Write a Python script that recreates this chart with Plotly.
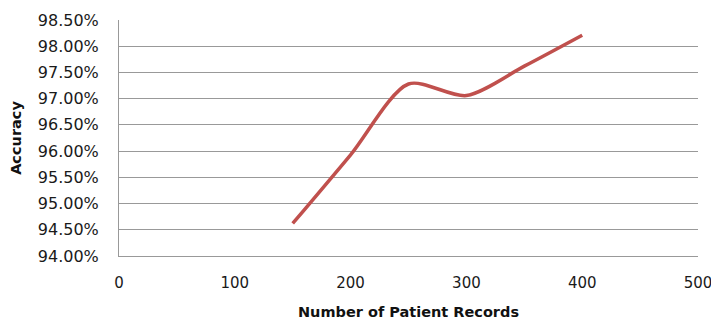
import plotly.graph_objects as go

records = [150, 200, 250, 300, 350, 400]
accuracy = [94.62, 95.93, 97.28, 97.06, 97.62, 98.21]
x_ticks = [0, 100, 200, 300, 400, 500]
y_ticks = [94.0, 94.5, 95.0, 95.5, 96.0, 96.5, 97.0, 97.5, 98.0, 98.5]
y_labels = [f"{v:.2f}%" for v in y_ticks]

fig = go.Figure()
fig.add_trace(go.Scatter(
    x=records, y=accuracy, mode="lines",
    line=dict(color="#C0504D", width=3.5, shape="spline", smoothing=0.8),
    showlegend=False,
))

tick_font = dict(family="DejaVu Sans, Verdana, sans-serif", size=16, color="#1a1a1a")
xtick_font = dict(family="DejaVu Sans, Verdana, sans-serif", size=15, color="#1a1a1a")
title_font = dict(family="DejaVu Sans, Verdana, sans-serif", size=14.5, color="#111111")
# page body has an 8px default margin, so the figure is sized to fit the window
fig.update_layout(
    width=711, height=313,
    margin=dict(l=111, r=21, t=12, b=65),
    paper_bgcolor="white", plot_bgcolor="white",
    xaxis=dict(
        range=[0, 500], tickvals=x_ticks, ticktext=[str(v) for v in x_ticks],
        showgrid=False, zeroline=False, showline=True, linecolor="#999999", linewidth=1,
        ticks="outside", ticklen=13, tickcolor="rgba(0,0,0,0)",
        tickfont=xtick_font, automargin=False, ticklabeloverflow="allow",
        title=dict(text="<b>Number of Patient Records</b>", font=title_font),
    ),
    yaxis=dict(
        range=[94.0, 98.5], tickvals=y_ticks, ticktext=y_labels,
        showgrid=True, gridcolor="#999999", gridwidth=1, zeroline=False,
        showline=True, linecolor="#999999", linewidth=1,
        ticks="outside", ticklen=16, tickcolor="rgba(0,0,0,0)",
        tickfont=tick_font, automargin=False, ticklabeloverflow="allow",
        title=dict(text="<b>Accuracy</b>", font=title_font),
    ),
)
fig.write_html("out.html")
